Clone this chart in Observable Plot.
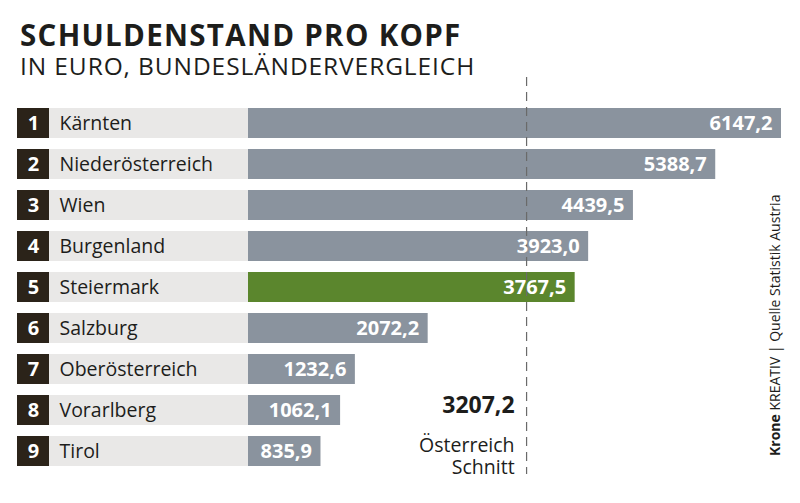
<!DOCTYPE html>
<html>
<head>
<meta charset="utf-8">
<script src="https://cdn.jsdelivr.net/npm/d3@7"></script>
<script src="https://cdn.jsdelivr.net/npm/@observablehq/plot@0.6"></script>
<style>
  html, body { margin: 0; padding: 0; background: #fff; }
  #wrap { position: relative; width: 800px; height: 503px; overflow: hidden; font-family: "Open Sans", sans-serif; color: #1d1d1b; }
  #header { position: relative; height: 76px; }
  #title { position: absolute; left: 20px; top: 20px; font-size: 29.5px; font-weight: 700; line-height: 30px; white-space: nowrap; letter-spacing: 1.3px; }
  #subtitle { position: absolute; left: 20px; top: 53px; font-size: 24.5px; font-weight: 400; line-height: 25px; white-space: nowrap; letter-spacing: 0.9px; }
  #credit { position: absolute; left: 767px; top: 456px; transform-origin: 0 0; transform: rotate(-90deg); font-size: 14px; line-height: 16px; white-space: nowrap; color: #1d1d1b; }
  #chart svg { display: block; }
</style>
</head>
<body>
<div id="wrap">
  <div id="header">
    <div id="title">SCHULDENSTAND PRO KOPF</div>
    <div id="subtitle">IN EURO, BUNDESLÄNDERVERGLEICH</div>
  </div>
  <div id="chart"></div>
  <div id="credit"><b>Krone</b> KREATIV | Quelle Statistik Austria</div>
</div>
<script>
const ranks = [1, 2, 3, 4, 5, 6, 7, 8, 9];
const states = ["Kärnten", "Niederösterreich", "Wien", "Burgenland", "Steiermark", "Salzburg", "Oberösterreich", "Vorarlberg", "Tirol"];
const values = [6147.2, 5388.7, 4439.5, 3923.0, 3767.5, 2072.2, 1232.6, 1062.1, 835.9];
const highlight = "Steiermark";
const austriaAvg = 3207.2;
const avgLabel = ["Österreich", "Schnitt"];

const data = states.map((name, i) => ({ rank: ranks[i], name, value: values[i] }));
const fmt = v => v.toFixed(1).replace(".", ",");

const W = 800, H = 427;
const zero = () => 0;
const plot = Plot.plot({
  width: W,
  height: H,
  marginLeft: 0,
  marginRight: 0,
  marginTop: 26.5,
  marginBottom: 31.5,
  style: { fontFamily: "'Open Sans', sans-serif", background: "transparent" },
  x: { domain: [0, d3.max(values)], range: [248, 781], axis: null },
  y: { domain: states, paddingInner: 0.27, paddingOuter: 0.135, axis: null },
  marks: [
    // light label background (extends left from the zero baseline)
    Plot.barX(data, { y: "name", x1: zero, x2: zero, fill: "#e9e8e7", insetLeft: -199, insetRight: 0 }),
    // rank boxes
    Plot.barX(data, { y: "name", x1: zero, x2: zero, fill: "#2b2319", insetLeft: -231, insetRight: 199 }),
    // value bars
    Plot.barX(data, { x: "value", y: "name", fill: d => d.name === highlight ? "#5b862d" : "#8a939e" }),
    // average rule
    Plot.ruleX([austriaAvg], { stroke: "#6a6a6a", strokeWidth: 1.2, strokeDasharray: "9,6", insetTop: -25.5, insetBottom: -2.5 }),
    // rank numbers
    Plot.text(data, { y: "name", text: d => String(d.rank), frameAnchor: "left", dx: 33, textAnchor: "middle", fill: "white", fontWeight: 700, fontSize: 20 }),
    // state names
    Plot.text(data, { y: "name", text: "name", frameAnchor: "left", dx: 59, textAnchor: "start", fill: "#1d1d1b", fontSize: 19.5 }),
    // value labels
    Plot.text(data, { x: "value", y: "name", text: d => fmt(d.value), textAnchor: "end", dx: -9, fill: "white", fontWeight: 700, fontSize: 20 }),
    // average annotation
    Plot.text([austriaAvg], { x: d => d, frameAnchor: "bottom", text: d => fmt(d), textAnchor: "end", dx: -12, dy: -59, fontWeight: 700, fontSize: 23, fill: "#1d1d1b" }),
    Plot.text([austriaAvg], { x: d => d, frameAnchor: "bottom", text: () => avgLabel.join("\n"), textAnchor: "end", lineAnchor: "bottom", lineHeight: 1.15, dx: -12, dy: 2, fontSize: 19.5, fill: "#1d1d1b" })
  ]
});
document.getElementById("chart").appendChild(plot);
</script>
</body>
</html>
